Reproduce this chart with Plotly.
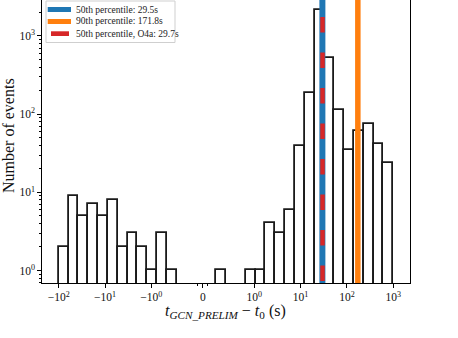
import numpy as np
import plotly.graph_objects as go

# ---------------- data ----------------
bin_lo, bin_hi, n_bins = -100.0, 1000.0, 34
counts = [2, 9, 5, 7, 5, 8, 2, 3, 2, 1, 3, 1,
          0, 0, 0, 0, 1, 0, 0, 1, 1, 4, 3, 6,
          39, 187, 2150, 527, 112, 35, 61, 74, 42, 24]
xtick_vals = [-100, -10, -1, 0, 1, 10, 100, 1000]
xtick_text = ["−10<sup>2</sup>", "−10<sup>1</sup>", "−10<sup>0</sup>", "0",
              "10<sup>0</sup>", "10<sup>1</sup>", "10<sup>2</sup>", "10<sup>3</sup>"]
ytick_vals = [1, 10, 100, 1000]
ytick_text = ["10<sup>0</sup>", "10<sup>1</sup>", "10<sup>2</sup>", "10<sup>3</sup>"]
pct_values = [29.5, 171.8, 29.7]
pct_labels = ["50th percentile: 29.5s", "90th percentile: 171.8s", "50th percentile, O4a: 29.7s"]
pct_colors = ["#1f77b4", "#ff7f0e", "#d62728"]

# ---------------- symlog helper (linthresh=1, linscale=1, base 10) ----------------
LINSCALE = 1.0 / (1.0 - 1.0 / 10.0)


def symlog(v):
    v = np.asarray(v, dtype=float)
    a = np.abs(v)
    return np.where(a <= 1, v * LINSCALE,
                    np.sign(v) * (LINSCALE + np.log10(np.maximum(a, 1.0))))


edges_t = np.linspace(float(symlog(bin_lo)), float(symlog(bin_hi)), n_bins + 1)
centers_t = (edges_t[:-1] + edges_t[1:]) / 2
bin_w = edges_t[1] - edges_t[0]
span = edges_t[-1] - edges_t[0]
xr = [edges_t[0] - 0.05 * span, edges_t[-1] + 0.05 * span]
yr = [-0.16, 3.46]

FONT = "Liberation Serif"

# plot area in pixels (for paper conversions)
W, H = 458, 338
ML, MR, MT, MB = 42, 48, 0, 55
PW, PH = W - ML - MR, H - MT - MB


def px2paper(px, py):
    return (px - ML) / PW, (H - MB - py) / PH


fig = go.Figure()
fig.add_trace(go.Bar(
    x=centers_t, y=[c if c > 0 else None for c in counts], width=bin_w,
    marker=dict(color="rgba(0,0,0,0)", line=dict(color="#1a1a1a", width=1.8)),
    showlegend=False, hoverinfo="skip"))

shapes = []
# vertical percentile lines
widths = [6, 5.5, 4.5]
dashes = ["solid", "solid", "15.5px,20px"]
ytop_ext = 1 + 18.5 / PH
for v, c, w, d in zip(pct_values, pct_colors, widths, dashes):
    xv = float(symlog(v))
    shapes.append(dict(type="line", xref="x", yref="paper", x0=xv, x1=xv,
                       y0=ytop_ext, y1=0, line=dict(color=c, width=w, dash=d),
                       layer="above"))

# legend box
bx0, by0 = px2paper(46, 42.5)
bx1, by1 = px2paper(175, 1)
shapes.append(dict(type="rect", xref="paper", yref="paper", x0=bx0, y0=by0, x1=bx1, y1=by1,
                   fillcolor="rgba(255,255,255,0.85)", line=dict(color="#cfcfcf", width=1),
                   layer="above"))
patch_rows = [(47.7, 71, 7, 12), (47.7, 71, 19, 24), (51, 69, 31.3, 36)]
for (x0, x1, y0, y1), c in zip(patch_rows, pct_colors):
    a0, b0 = px2paper(x0, y1)
    a1, b1 = px2paper(x1, y0)
    shapes.append(dict(type="rect", xref="paper", yref="paper", x0=a0, y0=b0, x1=a1, y1=b1,
                       fillcolor=c, line=dict(width=0), layer="above"))

annotations = []
for lab, yc in zip(pct_labels, [9.5, 21.5, 33.7]):
    ax, ay = px2paper(74, yc)
    annotations.append(dict(text=lab, xref="paper", yref="paper", x=ax, y=ay,
                            xanchor="left", yanchor="middle", showarrow=False,
                            font=dict(family=FONT, size=9.5, color="#222")))

ax_, ay_ = px2paper(225.5, 311.5)
annotations.append(dict(text="<i>t</i><sub><i>GCN_PRELIM</i></sub> − <i>t</i><sub>0</sub> (s)",
                        xref="paper", yref="paper", x=ax_, y=ay_, xanchor="center",
                        yanchor="middle", showarrow=False,
                        font=dict(family=FONT, size=16, color="#111")))
ax_, ay_ = px2paper(8, 136)
annotations.append(dict(text="Number of events", xref="paper", yref="paper", x=ax_, y=ay_,
                        xanchor="center", yanchor="middle", textangle=-90, showarrow=False,
                        font=dict(family=FONT, size=16, color="#111")))

ymin_vals = [k * 10 ** e for e in range(-1, 4) for k in range(2, 10)]
ymin_vals = [v for v in ymin_vals if 10 ** yr[0] < v < 10 ** yr[1]]

fig.update_layout(
    width=W, height=H, margin=dict(l=ML, r=MR, t=MT, b=MB),
    paper_bgcolor="white", plot_bgcolor="white", bargap=0,
    shapes=shapes, annotations=annotations, showlegend=False,
    xaxis=dict(range=xr, tickmode="array", tickvals=[float(symlog(v)) for v in xtick_vals],
               ticktext=xtick_text, ticks="outside", ticklen=3.5, tickwidth=1,
               tickcolor="black", showline=True, linecolor="black", linewidth=1.2,
               mirror=False, showgrid=False, zeroline=False,
               tickfont=dict(family=FONT, size=11.5, color="#111"),
               minor=dict(tickvals=[float(symlog(v)) for v in [-0.1, 0.1]], ticks="outside",
                          ticklen=2, tickcolor="black")),
    yaxis=dict(type="log", range=yr, tickmode="array", tickvals=ytick_vals,
               ticktext=ytick_text, ticks="outside", ticklen=3.5, tickwidth=1,
               tickcolor="black", showline=True, linecolor="black", linewidth=1.2,
               mirror=True, showgrid=False, zeroline=False,
               tickfont=dict(family=FONT, size=11.5, color="#111"),
               minor=dict(tickvals=ymin_vals, ticks="outside", ticklen=2, tickcolor="black")),
)

fig.write_html("out.html")
